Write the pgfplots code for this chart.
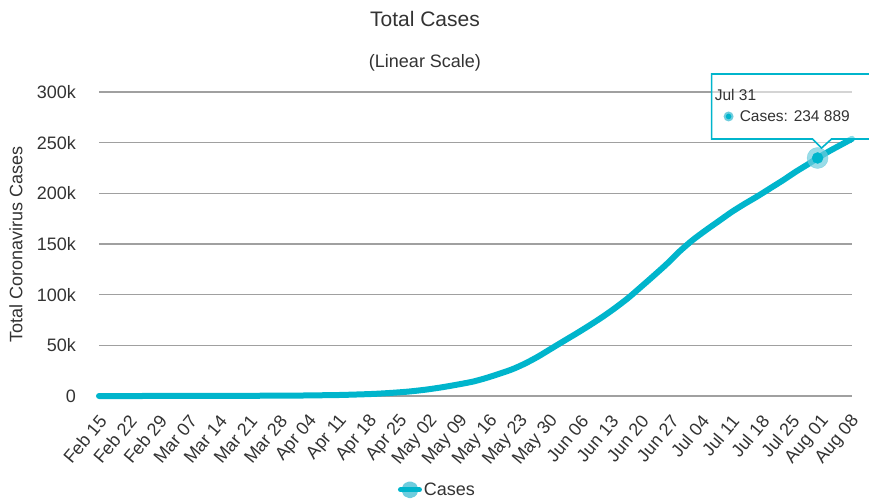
\documentclass[border=0pt]{standalone}
\usepackage{fontspec}
\setmainfont{Liberation Sans}
\usepackage{pgfplots}
\usepackage{pgfplotstable}
\pgfplotsset{compat=1.18}

\definecolor{series}{RGB}{0,181,204}
\definecolor{serieslight}{RGB}{110,205,222}
\definecolor{txt}{RGB}{51,51,51}
\definecolor{gridc}{RGB}{160,160,160}

% cumulative cases, day 0 = Feb 15
\pgfplotstableread{
day cases
0 0
14 10
28 80
42 350
49 550
52 750
56 1000
60 1500
64 2100
68 3100
72 4400
76 6300
80 8800
84 11800
87 14300
90 17800
93 21900
96 26300
99 32000
102 38800
105 46500
108 54200
111 61800
114 69700
117 78000
120 87000
123 96800
126 107800
129 119000
132 130500
135 143000
138 154000
141 163500
144 172500
147 181500
150 189500
153 197000
156 205000
159 213000
162 221500
165 229300
167 234889
170 242300
173 249200
175 253800
}\casedata

\begin{document}
\begin{tikzpicture}[x=1pt,y=1pt]
\useasboundingbox (-99,-102) rectangle (770,396);
\clip (-99,-102) rectangle (770,396);
\begin{axis}[
  at={(0,0)}, anchor=south west,
  scale only axis, width=753pt, height=304pt,
  xmin=0, xmax=175, ymin=0, ymax=300000,
  clip=false,
  axis line style={draw=none},
  major tick length=0pt,
  tick style={draw=none},
  ymajorgrids,
  grid style={gridc, line width=1.1pt},
  ytick={0,50000,100000,150000,200000,250000,300000},
  yticklabels={0,50k,100k,150k,200k,250k,300k},
  scaled y ticks=false,
  xtick={0,7,...,175},
  xticklabels={Feb 15,Feb 22,Feb 29,Mar 07,Mar 14,Mar 21,Mar 28,Apr 04,Apr 11,Apr 18,Apr 25,May 02,May 09,May 16,May 23,May 30,Jun 06,Jun 13,Jun 20,Jun 27,Jul 04,Jul 11,Jul 18,Jul 25,Aug 01,Aug 08},
  /pgf/number format/assume math mode=true,
  tick label style={font=\fontsize{18}{20}\selectfont, text=txt},
  yticklabel style={inner sep=0pt, xshift=-23pt},
  xticklabel style={rotate=50, anchor=east, inner sep=0pt, xshift=-14pt, yshift=-17pt},
  ylabel={Total Coronavirus Cases},
  ylabel style={at={(axis description cs:-0.1102,0.497)}, anchor=center,
    font=\fontsize{18}{20}\selectfont, text=txt},
  legend style={at={(axis description cs:0.4495,-0.3085)}, anchor=center,
    draw=none, fill=none, font=\fontsize{18}{20}\selectfont, text=txt,
    inner sep=0pt, outer sep=0pt},
  legend image code/.code={
    \fill[serieslight] (9.5pt,0pt) circle (5.5pt);
    \draw[series, line width=5pt] (0pt,0pt) -- (19pt,0pt);
  },
]
\addplot[series, line width=6pt, line cap=round, line join=round,
  smooth, tension=0.45] table[x=day, y=cases] {\casedata};
\addlegendentry{Cases}

% hovered point (Jul 31)
\addplot[forget plot, only marks, mark=*, mark size=10.5pt,
  color=serieslight, opacity=0.7]
  coordinates {(167,234889)};
\addplot[forget plot, only marks, mark=*, mark size=5.5pt, color=series]
  coordinates {(167,234889)};
\coordinate (hp) at (axis cs:167,234889);
\end{axis}

% titles
\node[anchor=base, text=txt, font=\fontsize{21}{24}\selectfont] at (326,369) {Total Cases};
\node[anchor=base, text=txt, font=\fontsize{18}{21}\selectfont] at (326,328) {(Linear Scale)};

% tooltip
\path[fill=white, fill opacity=0.55, draw=series, line width=1.6pt, line join=miter]
  ([shift={(-106,19)}]hp) -- ([shift={(-5,19)}]hp) -- ([shift={(4,10)}]hp)
  -- ([shift={(14,19)}]hp) -- ([shift={(70,19)}]hp) -- ([shift={(70,84)}]hp)
  -- ([shift={(-106,84)}]hp) -- cycle;
\node[anchor=base west, inner sep=0pt, text=txt, font=\fontsize{15.5}{18}\selectfont]
  at ([shift={(-103,57)}]hp) {Jul 31};
\fill[serieslight] ([shift={(-89,41.5)}]hp) circle (5pt);
\fill[series] ([shift={(-89,41.5)}]hp) circle (2.8pt);
\node[anchor=base west, inner sep=0pt, text=txt, font=\fontsize{15.5}{18}\selectfont]
  at ([shift={(-78,36)}]hp) {Cases: 234 889};
\end{tikzpicture}
\end{document}
